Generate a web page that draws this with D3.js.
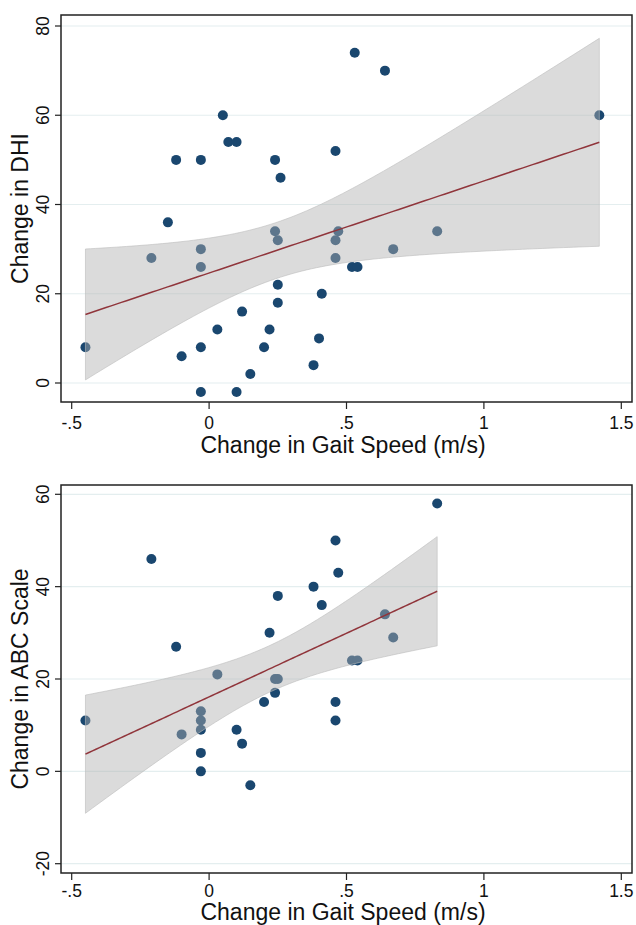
<!DOCTYPE html>
<html>
<head>
<meta charset="utf-8">
<script src="https://cdn.jsdelivr.net/npm/d3@7"></script>
<style>
  body { margin: 0; background: #fff; }
  text { font-family: "Liberation Sans", Arial, sans-serif; fill: #111; }
</style>
</head>
<body>
<svg id="chart" width="636" height="925"></svg>
<script>
// change in gait speed (m/s) vs change in DHI
const dhiGait = [0.05, 0.07, 0.10, -0.12, -0.03, 0.24, 0.26, -0.15, 0.53, 0.64, 0.46, 1.42,
    -0.21, -0.03, -0.03, 0.24, 0.25, 0.25, 0.25, -0.45, -0.10, -0.03, 0.03, 0.12, 0.22,
    0.20, 0.15, -0.03, 0.10, 0.41, 0.40, 0.38, 0.47, 0.46, 0.46, 0.83, 0.67, 0.52, 0.54];
const dhiChange = [60, 54, 54, 50, 50, 50, 46, 36, 74, 70, 52, 60,
    28, 30, 26, 34, 32, 22, 18, 8, 6, 8, 12, 16, 12,
    8, 2, -2, -2, 20, 10, 4, 34, 32, 28, 34, 30, 26, 26];

// change in gait speed (m/s) vs change in ABC scale
const abcGait = [-0.21, -0.12, 0.03, 0.22, 0.25, 0.38, 0.41, 0.24, 0.25, 0.83, 0.46, 0.47,
    0.64, 0.67, 0.52, 0.54, -0.45, -0.10, -0.03, -0.03, -0.03, -0.03, -0.03, 0.10,
    0.12, 0.15, 0.20, 0.24, 0.46, 0.46];
const abcChange = [46, 27, 21, 30, 38, 40, 36, 20, 20, 58, 50, 43,
    34, 29, 24, 24, 11, 8, 13, 11, 9, 4, 0, 9,
    6, -3, 15, 17, 15, 11];

const xTicks = [-0.5, 0, 0.5, 1, 1.5];
const xTickLabels = ['-.5', '0', '.5', '1', '1.5'];
const dhiTicks = [0, 20, 40, 60, 80];
const abcTicks = [-20, 0, 20, 40, 60];

const svg = d3.select('#chart');

// t quantile (Cornish-Fisher expansion around the normal quantile)
function tQuantile(p, df) {
    const z = 1.959963985; // for p = .975
    const z3 = z * z * z, z5 = z3 * z * z, z7 = z5 * z * z;
    return z + (z3 + z) / (4 * df)
        + (5 * z5 + 16 * z3 + 3 * z) / (96 * df * df)
        + (3 * z7 + 19 * z5 + 17 * z3 - 15 * z) / (384 * df * df * df);
}

// linear fit + 95% CI of the prediction (like stata lfitci)
function linFit(xs, ys) {
    const n = xs.length;
    const mx = d3.mean(xs), my = d3.mean(ys);
    let sxx = 0, sxy = 0;
    xs.forEach((x, i) => { sxx += (x - mx) ** 2; sxy += (x - mx) * (ys[i] - my); });
    const b = sxy / sxx, a = my - b * mx;
    let sse = 0;
    xs.forEach((x, i) => { sse += (ys[i] - a - b * x) ** 2; });
    const s = Math.sqrt(sse / (n - 2));
    const t = tQuantile(0.975, n - 2);
    const [lo, hi] = d3.extent(xs);
    return d3.range(101).map(k => {
        const x = lo + (hi - lo) * k / 100;
        const yhat = a + b * x;
        const se = s * Math.sqrt(1 / n + (x - mx) ** 2 / sxx);
        return { x: x, y: yhat, lo: yhat - t * se, hi: yhat + t * se };
    });
}

function panel(opt) {
    const g = svg.append('g');
    const x = d3.scaleLinear().domain([-0.5, 1.5]).range([71.7, 621.3]);
    const y = d3.scaleLinear().domain(opt.yDomain).range(opt.yRange);

    // gridlines
    g.selectAll('.grid').data(opt.yTicks).enter().append('line')
        .attr('x1', opt.left).attr('x2', opt.right)
        .attr('y1', d => y(d)).attr('y2', d => y(d))
        .attr('stroke', '#e4eeef').attr('stroke-width', 1.2);

    // scatter
    g.selectAll('circle').data(opt.xs).enter().append('circle')
        .attr('cx', d => x(d))
        .attr('cy', (d, i) => y(opt.ys[i]))
        .attr('r', 5)
        .attr('fill', '#1a476f');

    // CI band over the points
    const fit = linFit(opt.xs, opt.ys);
    g.append('path')
        .datum(fit)
        .attr('d', d3.area().x(d => x(d.x)).y0(d => y(d.lo)).y1(d => y(d.hi)))
        .attr('fill', '#b0b0b0')
        .attr('fill-opacity', 0.45)
        .attr('stroke', '#bdbdbd')
        .attr('stroke-opacity', 0.6)
        .attr('stroke-width', 1);

    g.append('path')
        .datum(fit)
        .attr('d', d3.line().x(d => x(d.x)).y(d => y(d.y)))
        .attr('fill', 'none')
        .attr('stroke', '#90353b')
        .attr('stroke-width', 1.5);

    // frame
    g.append('rect')
        .attr('x', opt.left).attr('y', opt.top)
        .attr('width', opt.right - opt.left).attr('height', opt.bottom - opt.top)
        .attr('fill', 'none').attr('stroke', '#222').attr('stroke-width', 1.5);

    // y axis ticks and rotated labels
    g.selectAll('.ytick').data(opt.yTicks).enter().append('line')
        .attr('x1', opt.left - 6).attr('x2', opt.left)
        .attr('y1', d => y(d)).attr('y2', d => y(d))
        .attr('stroke', '#222').attr('stroke-width', 1.2);
    g.selectAll('.ylab').data(opt.yTicks).enter().append('text')
        .attr('transform', d => `translate(${opt.left - 12},${y(d)}) rotate(-90)`)
        .attr('text-anchor', 'middle')
        .attr('font-size', 17.5)
        .text(d => d);

    // x axis ticks and labels
    g.selectAll('.xtick').data(xTicks).enter().append('line')
        .attr('x1', d => x(d)).attr('x2', d => x(d))
        .attr('y1', opt.bottom).attr('y2', opt.bottom + 7)
        .attr('stroke', '#222').attr('stroke-width', 1.2);
    g.selectAll('.xlab').data(xTicks).enter().append('text')
        .attr('x', d => x(d))
        .attr('y', opt.bottom + opt.tickGap)
        .attr('text-anchor', 'middle')
        .attr('font-size', 17.5)
        .text((d, i) => xTickLabels[i]);

    g.append('text')
        .attr('x', 343).attr('y', opt.bottom + opt.titleGap)
        .attr('text-anchor', 'middle')
        .attr('font-size', 23)
        .text('Change in Gait Speed (m/s)');

    g.append('text')
        .attr('transform', `translate(28,${(opt.top + opt.bottom) / 2}) rotate(-90)`)
        .attr('text-anchor', 'middle')
        .attr('font-size', 23)
        .text(opt.yTitle);
}

panel({
    xs: dhiGait, ys: dhiChange, yTicks: dhiTicks,
    yDomain: [0, 80], yRange: [383, 26],
    left: 61, right: 632, top: 15, bottom: 402,
    tickGap: 27, titleGap: 51,
    yTitle: 'Change in DHI'
});

panel({
    xs: abcGait, ys: abcChange, yTicks: abcTicks,
    yDomain: [-20, 60], yRange: [863.7, 494.3],
    left: 61, right: 632, top: 485, bottom: 873,
    tickGap: 24, titleGap: 47,
    yTitle: 'Change in ABC Scale'
});
</script>
</body>
</html>
